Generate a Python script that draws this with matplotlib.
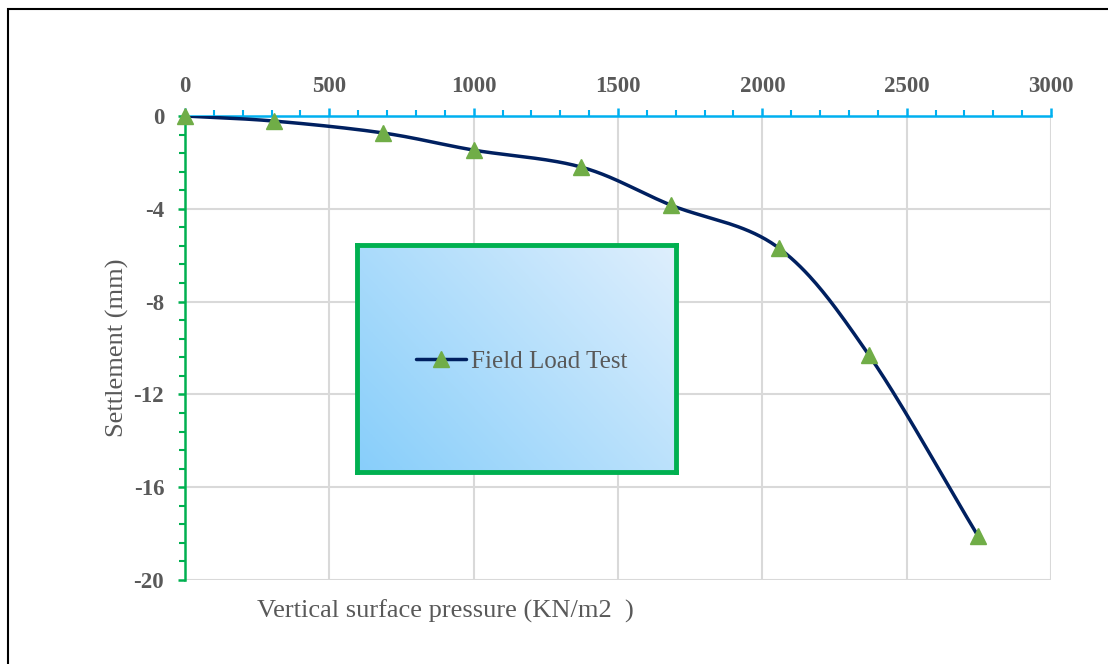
import numpy as np
import matplotlib
matplotlib.use("Agg")
import matplotlib.pyplot as plt
from matplotlib.patches import Rectangle
from matplotlib.ticker import MultipleLocator

# Data
pressure = [0, 310, 686, 1000, 1372, 1683, 2057, 2369, 2747]
settlement = [0, -0.22, -0.73, -1.47, -2.2, -3.84, -5.69, -10.3, -18.1]
series_name = "Field Load Test"
x_ticks = [0, 500, 1000, 1500, 2000, 2500, 3000]
y_ticks = [0, -4, -8, -12, -16, -20]
x_title = "Vertical surface pressure (KN/m2\u2002)"
y_title = "Settlement (mm)"

plt.rcParams["axes.unicode_minus"] = False
W, H, DPI = 1108, 664, 100
fig = plt.figure(figsize=(W / DPI, H / DPI), dpi=DPI)
serif = "Liberation Serif"
gray = "#595959"

# outer border
fig.patches.append(Rectangle((8 / W, -0.05), 1.2, 1 - 9 / H + 0.05, transform=fig.transFigure,
                             fill=False, edgecolor="black", linewidth=1.5))

ax = fig.add_axes([185 / W, 1 - 580 / H, (1051 - 185) / W, (580 - 116) / H])
ax.set_xlim(0, 3000)
ax.set_ylim(-20, 0)


def smooth(xs, ys, sx, sy, n=40):
    # Catmull-Rom spline evaluated in display-like scaled units (smoothed line style)
    P = np.column_stack([np.asarray(xs) * sx, np.asarray(ys) * sy])
    P = np.vstack([P[0] - (P[1] - P[0]), P, P[-1] + (P[-1] - P[-2])])
    out = []
    for i in range(1, len(P) - 2):
        p0, p1, p2, p3 = P[i - 1], P[i], P[i + 1], P[i + 2]
        t = np.linspace(0, 1, n)[:, None]
        seg = 0.5 * ((2 * p1) + (-p0 + p2) * t + (2 * p0 - 5 * p1 + 4 * p2 - p3) * t ** 2
                     + (-p0 + 3 * p1 - 3 * p2 + p3) * t ** 3)
        out.append(seg if i == len(P) - 3 else seg[:-1])
    out = np.vstack(out)
    return out[:, 0] / sx, out[:, 1] / sy


sx = 866 / 3000
sy = 464 / 20
lx, ly = smooth(pressure, settlement, sx, sy)
ax.plot(lx, ly, color="#002060", linewidth=2.5, zorder=3, solid_capstyle="round")
ax.plot(pressure, settlement, linestyle="none", marker="^", markersize=11,
        color="#70AD47", zorder=4, clip_on=False)
handle = matplotlib.lines.Line2D([], [], color="#002060", linewidth=2.5, marker="^",
                                 markersize=11, markerfacecolor="#70AD47",
                                 markeredgecolor="#70AD47", solid_capstyle="round")

# axes styling
ax.xaxis.set_ticks_position("top")
ax.xaxis.set_label_position("top")
ax.set_xticks(x_ticks)
ax.set_yticks(y_ticks)
ax.xaxis.set_minor_locator(MultipleLocator(100))
ax.yaxis.set_minor_locator(MultipleLocator(0.8))
for s in ["right", "bottom"]:
    ax.spines[s].set_visible(False)
ax.spines["top"].set_color("#00B0F0")
ax.spines["top"].set_linewidth(1.8)
ax.spines["left"].set_color("#00B050")
ax.spines["left"].set_linewidth(1.8)
ax.tick_params(axis="x", which="major", direction="out", length=6, width=1.8,
               color="#00B0F0", pad=8)
ax.tick_params(axis="x", which="minor", direction="out", length=4, width=1.5, color="#00B0F0")
ax.tick_params(axis="y", which="major", direction="out", length=5, width=1.8,
               color="#00B050", pad=10)
ax.tick_params(axis="y", which="minor", direction="out", length=4, width=1.5, color="#00B050")
for lab in ax.get_xticklabels() + ax.get_yticklabels():
    lab.set_fontfamily(serif)
    lab.set_fontweight("bold")
    lab.set_fontsize(16.5)
    lab.set_color(gray)
ax.grid(True, which="major", color="#D9D9D9", linewidth=1.5, zorder=0)
ax.set_axisbelow(True)

ax.set_ylabel(y_title, fontfamily=serif, fontsize=19, color=gray, labelpad=3.5)
fig.text(257 / W, 1 - 611 / H, x_title, fontfamily=serif, fontsize=19, color=gray,
         ha="left", va="center")

# legend box with gradient
bx0, bx1, by0, by1 = 357, 676, 245, 472
lax = fig.add_axes([bx0 / W, 1 - by1 / H, (bx1 - bx0) / W, (by1 - by0) / H], zorder=5)
gx = np.linspace(0, 1, 200)[None, :]
gy = np.linspace(0, 1, 150)[:, None]
tt = np.clip(0.6 * gx + 0.4 * gy, 0, 1)
c0 = np.array([0x87, 0xCE, 0xFA]) / 255
c1 = np.array([0xDF, 0xEF, 0xFD]) / 255
img = c0[None, None, :] * (1 - tt[..., None]) + c1[None, None, :] * tt[..., None]
lax.imshow(img, origin="lower", extent=[0, 1, 0, 1], aspect="auto")
lax.set_xlim(0, 1)
lax.set_ylim(0, 1)
lax.set_xticks([])
lax.set_yticks([])
for s in lax.spines.values():
    s.set_color("#00B050")
    s.set_linewidth(3.5)
leg = lax.legend(handles=[handle], labels=[series_name], loc="center",
                 bbox_to_anchor=(0.515, 0.485),
                 frameon=False, handlelength=2.0, handletextpad=0.2,
                 prop={"family": serif, "size": 18})
for t in leg.get_texts():
    t.set_color(gray)

fig.savefig("out.png", dpi=DPI)
